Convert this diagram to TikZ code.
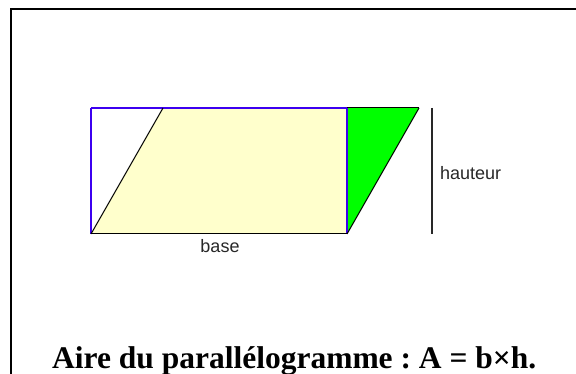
\documentclass[tikz,border=0pt]{standalone}
\usepackage{fontspec}
\setmainfont{Liberation Serif}
\newfontfamily\labfont{Liberation Sans}
\definecolor{pblue}{RGB}{60,0,240}
\definecolor{pyellow}{RGB}{255,255,204}
\definecolor{pgreen}{RGB}{0,255,0}
\definecolor{labgray}{RGB}{40,40,40}
\frenchspacing
\begin{document}
\begin{tikzpicture}[x=1pt,y=-1pt,
  frame/.style={line width=2.5pt,black},
  blueedge/.style={line width=1.2pt,pblue},
  blackedge/.style={line width=1pt,black},
  hline/.style={line width=1.3pt,labgray},
  lab/.style={inner sep=0pt,text=labgray,font=\labfont\fontsize{18}{20}\selectfont},
  titlestyle/.style={inner sep=0pt,font=\bfseries\fontsize{31.5}{36}\selectfont}]
\useasboundingbox (0,0) rectangle (576,374);
\fill[white] (0,0) rectangle (576,374);
% frame
\coordinate (f1) at (11,380);
\coordinate (f2) at (11,9);
\coordinate (f3) at (580,9);
\draw[frame] (f1) -- (f2) -- (f3);
% parallelogram points
\coordinate (BL) at (91,234);
\coordinate (TL) at (91,108);
\coordinate (PT) at (163,108);
\coordinate (MT) at (347,108);
\coordinate (MB) at (347,234);
\coordinate (TR) at (419,108);
% fills
\fill[pyellow] (BL) -- (PT) -- (MT) -- (MB) -- cycle;
\fill[pgreen] (MT) -- (TR) -- (MB) -- cycle;
% blue rectangle edges
\draw[blueedge] (TL) -- (MT);
\draw[blueedge] (TL) -- (BL);
\draw[blueedge] (MT) -- (MB);
% black edges
\draw[blackedge] (BL) -- (MB);
\draw[blackedge] (BL) -- (PT);
\draw[blackedge] (MT) -- (TR);
\draw[blackedge] (TR) -- (MB);
% height line
\coordinate (h1) at (432,108);
\coordinate (h2) at (432,234);
\draw[hline] (h1) -- (h2);
% labels
\node[lab,anchor=base] (base) at (220,253) {base};
\node[lab,anchor=base west] (haut) at (440,179.3) {hauteur};
\node[titlestyle,anchor=base] (titre) at (294.2,368) {Aire du parallélogramme : A = b×h.};
\end{tikzpicture}
\end{document}
